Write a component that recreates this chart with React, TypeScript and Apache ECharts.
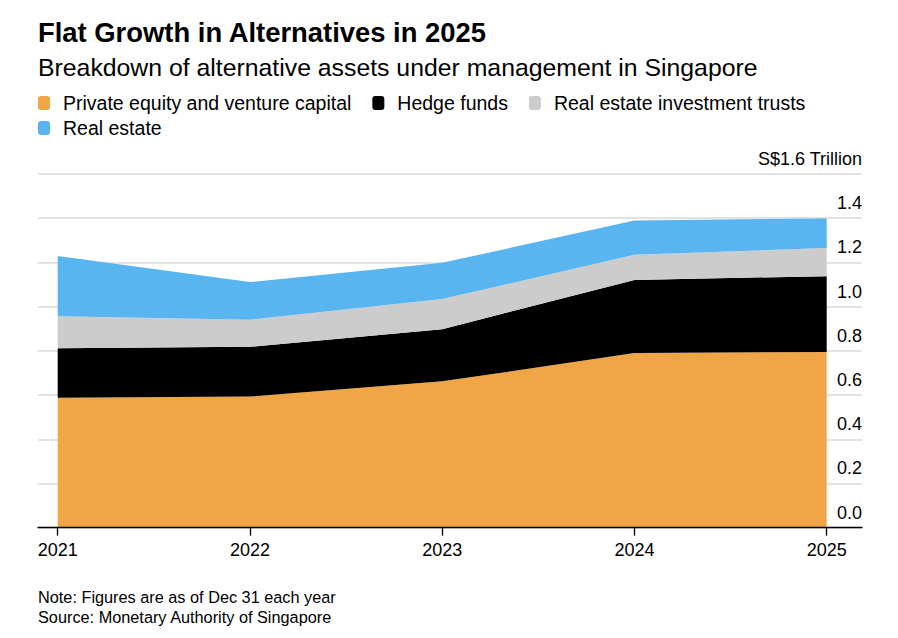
import React, { useEffect, useRef } from 'react';
import * as echarts from 'echarts';

const years = ['2021', '2022', '2023', '2024', '2025'];
const seriesNames = [
  'Private equity and venture capital',
  'Hedge funds',
  'Real estate investment trusts',
  'Real estate',
];
const privateEquity = [0.588, 0.593, 0.662, 0.79, 0.795];
const hedgeFunds = [0.224, 0.225, 0.236, 0.331, 0.343];
const reits = [0.144, 0.123, 0.136, 0.114, 0.127];
const realEstate = [0.273, 0.17, 0.164, 0.155, 0.134];
const colors = ['#F0A546', '#000000', '#CCCCCC', '#58B5EF'];
const yMin = 0;
const yMax = 1.6;
const yInterval = 0.2;
const unitLabel = 'S$1.6 Trillion';

const FONT = '"Liberation Sans", Arial, sans-serif';

export default function App() {
  const ref = useRef<HTMLDivElement>(null);

  useEffect(() => {
    document.body.style.margin = '0';
    if (!ref.current) return;
    const chart = echarts.init(ref.current, null, { renderer: 'svg' });
    const values = [privateEquity, hedgeFunds, reits, realEstate];
    const legendText = { fontFamily: FONT, fontSize: 19.5, color: '#000', padding: [0, 0, 0, 8] };
    const option: any = {
      animation: false,
      backgroundColor: '#ffffff',
      textStyle: { fontFamily: FONT },
      title: [
        {
          text: 'Flat Growth in Alternatives in 2025',
          left: 38,
          top: 17,
          padding: 0,
          textStyle: { fontFamily: FONT, fontSize: 27.4, fontWeight: 'bold', color: '#000', lineHeight: 30 },
        },
        {
          text: 'Breakdown of alternative assets under management in Singapore',
          left: 38,
          top: 53,
          padding: 0,
          textStyle: { fontFamily: FONT, fontSize: 24.8, fontWeight: 'normal', color: '#000', lineHeight: 28 },
        },
        {
          text: 'Note: Figures are as of Dec 31 each year',
          left: 38,
          top: 587,
          padding: 0,
          textStyle: { fontFamily: FONT, fontSize: 16.3, fontWeight: 'normal', color: '#000', lineHeight: 20 },
        },
        {
          text: 'Source: Monetary Authority of Singapore',
          left: 38,
          top: 607,
          padding: 0,
          textStyle: { fontFamily: FONT, fontSize: 16.3, fontWeight: 'normal', color: '#000', lineHeight: 20 },
        },
      ],
      legend: [
        {
          data: seriesNames.slice(0, 3),
          left: 38,
          top: 93,
          padding: 0,
          orient: 'horizontal',
          icon: 'roundRect',
          itemWidth: 12,
          itemHeight: 14,
          itemGap: 21,
          selectedMode: false,
          textStyle: legendText,
        },
        {
          data: seriesNames.slice(3),
          left: 38,
          top: 118,
          padding: 0,
          orient: 'horizontal',
          icon: 'roundRect',
          itemWidth: 12,
          itemHeight: 14,
          itemGap: 21,
          selectedMode: false,
          textStyle: legendText,
        },
      ],
      grid: [
        { left: 38, right: 36, top: 174, bottom: 110.3 },
        { left: 57.7, right: 71.3, top: 174, bottom: 110.3 },
      ],
      xAxis: [
        {
          gridIndex: 0,
          type: 'value',
          min: 0,
          max: 1,
          z: 3,
          axisLine: { show: true, onZero: false, lineStyle: { color: '#000', width: 1.3 } },
          axisTick: { show: false },
          axisLabel: { show: false },
          splitLine: { show: false },
        },
        {
          gridIndex: 1,
          type: 'category',
          data: years,
          boundaryGap: false,
          axisLine: { show: false },
          axisTick: { show: true, length: 8, lineStyle: { color: '#000', width: 1.3 } },
          axisLabel: { show: true, margin: 13, fontFamily: FONT, fontSize: 18, color: '#000' },
          splitLine: { show: false },
        },
      ],
      yAxis: [
        {
          gridIndex: 0,
          type: 'value',
          position: 'right',
          min: yMin,
          max: yMax,
          interval: yInterval,
          axisLine: { show: false },
          axisTick: { show: false },
          splitLine: { show: true, lineStyle: { color: '#D8D8D8', width: 1.5 } },
          axisLabel: {
            inside: true,
            margin: 0,
            align: 'right',
            verticalAlign: 'bottom',
            padding: [0, 0, 6, 0],
            fontFamily: FONT,
            fontSize: 18,
            color: '#000',
            formatter: (v: number) => (Math.abs(v - yMax) < 1e-6 ? unitLabel : v.toFixed(1)),
          },
        },
        {
          gridIndex: 1,
          type: 'value',
          min: yMin,
          max: yMax,
          interval: yInterval,
          show: false,
          splitLine: { show: false },
        },
      ],
      series: seriesNames.map((name, i) => ({
        name,
        type: 'line',
        xAxisIndex: 1,
        yAxisIndex: 1,
        stack: 'total',
        data: values[i],
        symbol: 'none',
        showSymbol: false,
        lineStyle: { width: 0, color: colors[i] },
        itemStyle: { color: colors[i] },
        areaStyle: { color: colors[i], opacity: 1 },
        emphasis: { disabled: true },
        z: 2,
      })),
    };
    chart.setOption(option);
    return () => chart.dispose();
  }, []);

  return <div ref={ref} style={{ width: 898, height: 638 }} />;
}
